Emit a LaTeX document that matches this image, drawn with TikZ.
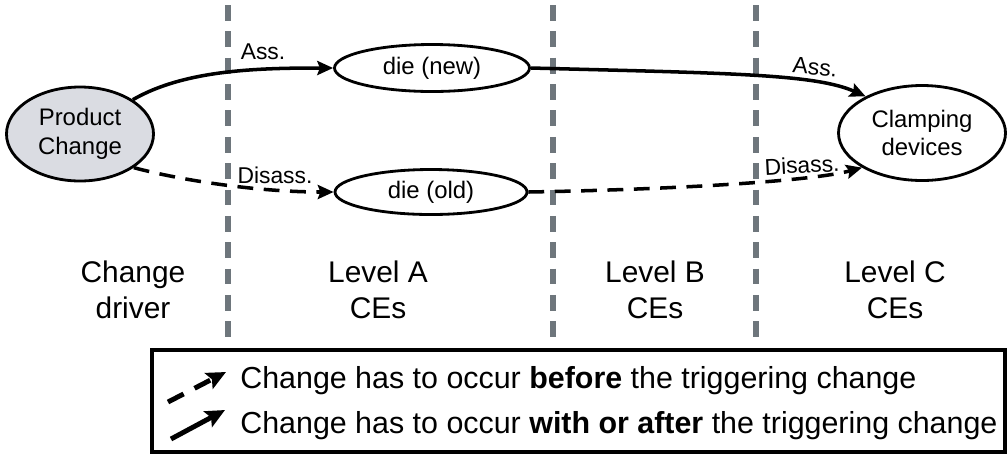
\documentclass[tikz,border=0pt]{standalone}
\usepackage{fontspec}
\setmainfont{Liberation Sans}
\usetikzlibrary{shapes.geometric,arrows.meta}

\definecolor{levelgray}{RGB}{110,118,124}
\definecolor{drivergray}{RGB}{218,220,226}

\begin{document}
\begin{tikzpicture}[
    ce/.style={draw, ellipse, line width=1.6pt, inner sep=0pt, align=center, font=\fontsize{13.6}{16.4}\selectfont},
    flow/.style={line width=2pt, -{Stealth[length=9pt,width=8pt,inset=1.5pt]}},
    early/.style={flow, dash pattern=on 9pt off 6pt},
    keyflow/.style={line width=2.8pt, -{Stealth[length=11pt,width=10pt,inset=2pt]}},
    keyearly/.style={keyflow, dash pattern=on 10pt off 7pt},
    levelline/.style={line width=3pt, draw=levelgray, dash pattern=on 9pt off 6pt},
    tag/.style={font=\fontsize{13}{15}\selectfont, inner sep=1pt},
    column/.style={align=center, font=\fontsize{17}{20.4}\selectfont},
    legendtext/.style={anchor=west, inner sep=0pt, font=\fontsize{17.3}{20}\selectfont}
]
    \useasboundingbox (0, 0) rectangle (20.16, -9.08);

    % level borders
    \coordinate (aTop) at (4.56, -0.1);
    \coordinate (aBot) at (4.56, -6.8);
    \coordinate (bTop) at (11.06, -0.1);
    \coordinate (bBot) at (11.06, -6.8);
    \coordinate (cTop) at (15.12, -0.1);
    \coordinate (cBot) at (15.12, -6.8);
    \draw[levelline] (aTop) to (aBot);
    \draw[levelline] (bTop) to (bBot);
    \draw[levelline] (cTop) to (cBot);

    % change driver
    \node[ce, fill=drivergray, minimum width=2.94cm, minimum height=1.88cm] (prodChange) at (1.6, -2.68) {Product\\Change};

    % level A
    \node[ce, minimum width=3.9cm, minimum height=0.94cm] (dieNew) at (8.64, -1.36) {die (new)};
    \node[ce, minimum width=3.84cm, minimum height=0.9cm] (dieOld) at (8.62, -3.84) {die (old)};

    % level C
    \node[ce, minimum width=3.34cm, minimum height=1.9cm] (clamp) at (18.44, -2.66) {Clamping\\devices};

    % driver - level A
    \draw[flow] (prodChange.33) to[out=30,in=180,out distance=1.2cm,in distance=1.5cm] (dieNew.west);
    \draw[early] (prodChange.-32) to[out=-15,in=180,out distance=1cm,in distance=1.5cm] (dieOld.west);

    % level A - level C
    \draw[flow] (dieNew.east) to[out=-1.5,in=156,out distance=4cm,in distance=1.1cm] (clamp.147);
    \draw[early] (dieOld.east) to[out=1,in=195,out distance=3cm,in distance=1.03cm] (clamp.210);

    % edge tags
    \node[tag] (tagAss1) at (5.26, -1.04) {Ass.};
    \node[tag] (tagDis1) at (5.5, -3.5) {Disass.};
    \node[tag, rotate=-5] (tagAss2) at (16.3, -1.34) {Ass.};
    \node[tag, rotate=3] (tagDis2) at (16.04, -3.3) {Disass.};

    % column titles
    \node[column] (colDriver) at (2.66, -5.8) {Change\\driver};
    \node[column] (colA) at (7.56, -5.8) {Level A\\CEs};
    \node[column] (colB) at (13.1, -5.8) {Level B\\CEs};
    \node[column] (colC) at (17.9, -5.8) {Level C\\CEs};

    % legend
    \draw[line width=2pt] (3.04, -7.0) rectangle (20.1, -9.04);
    \coordinate (keyEarlyA) at (3.36, -8.04);
    \coordinate (keyEarlyB) at (4.52, -7.44);
    \coordinate (keyFlowA) at (3.42, -8.78);
    \coordinate (keyFlowB) at (4.5, -8.2);
    \draw[keyearly] (keyEarlyA) to (keyEarlyB);
    \draw[keyflow] (keyFlowA) to (keyFlowB);
    \node[legendtext] (keyEarly) at (4.8, -7.62) {Change has to occur \textbf{before} the triggering change};
    \node[legendtext] (keyFlow) at (4.8, -8.52) {Change has to occur \textbf{with or after} the triggering change};

\end{tikzpicture}
\end{document}
